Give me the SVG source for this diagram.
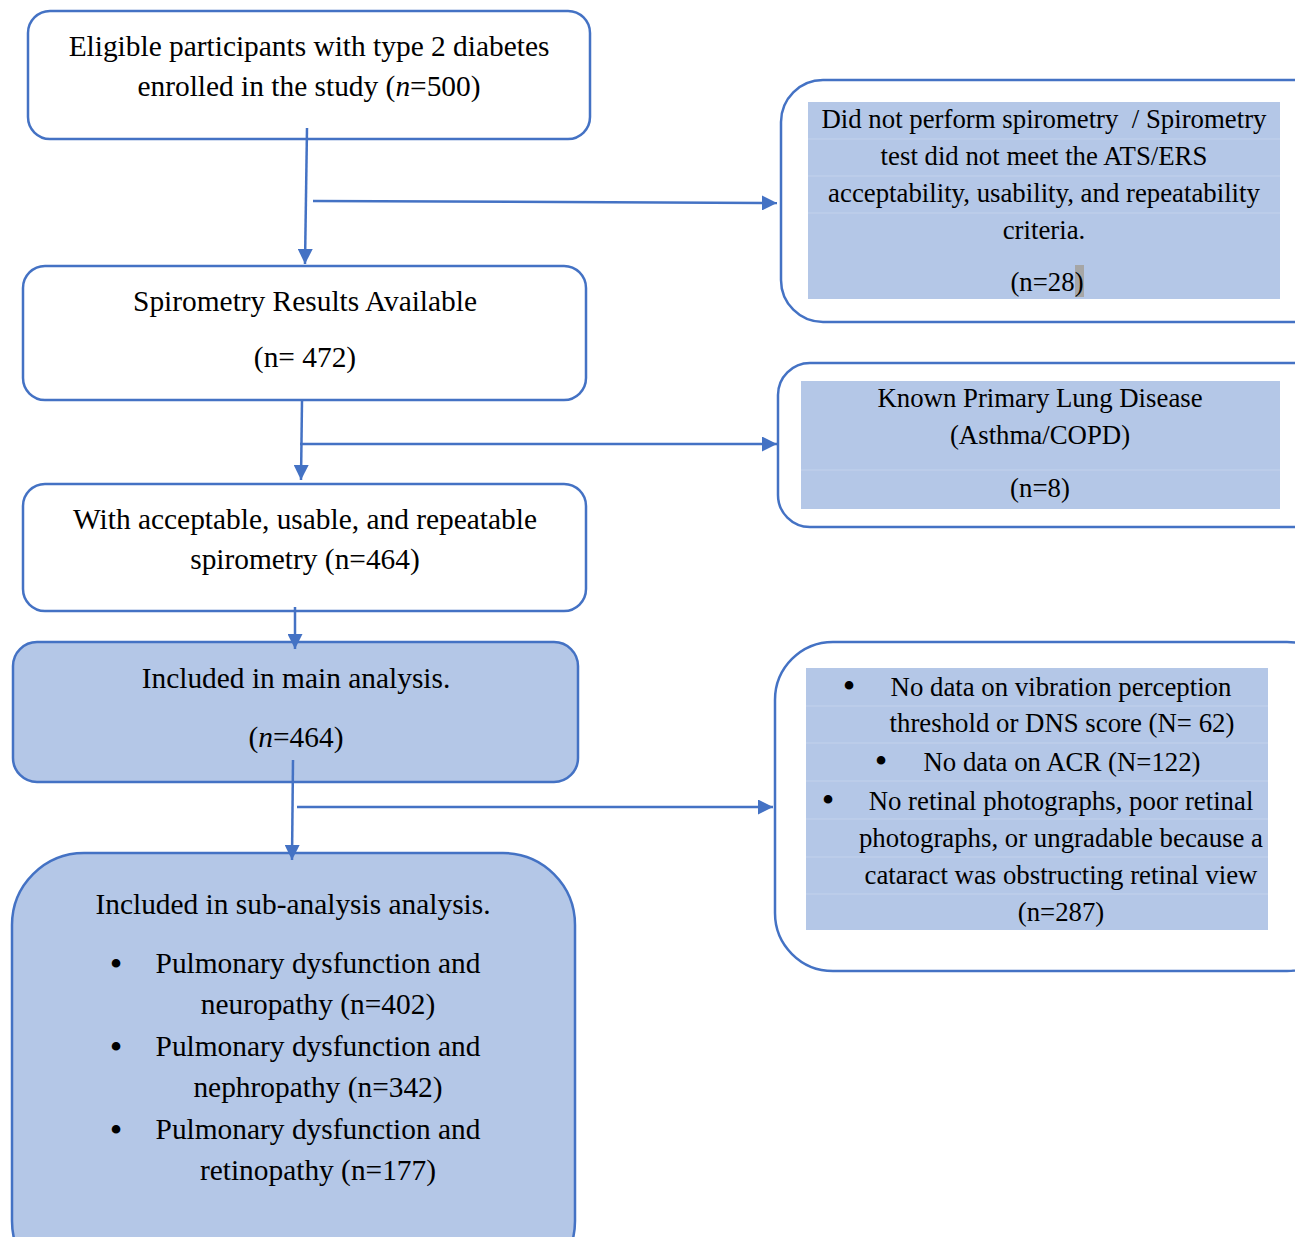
<svg xmlns="http://www.w3.org/2000/svg" width="1295" height="1237" viewBox="0 0 1295 1237">
<style>
.box{fill:#fff;stroke:#4472C4;stroke-width:2.5}
.fill{fill:#B4C7E7}
.shade{fill:#B4C7E7}
.row{stroke:#C3D2EC;stroke-width:1}
text{font-family:'Liberation Serif','Times New Roman','DejaVu Serif',serif;fill:#000;text-anchor:middle}
.t{font-size:29.4px}
.s{font-size:26.8px}
.b{font-size:36px}
.c{fill:none;stroke:#4472C4;stroke-width:2.5}
</style>
<defs>
<marker id="ah" viewBox="0 0 10 10" refX="10" refY="5" markerWidth="6" markerHeight="6" markerUnits="strokeWidth" orient="auto">
<path d="M0,0 L10,5 L0,10 z" fill="#4472C4"/>
</marker>
</defs>

<g id="n1">
<rect class="box" x="28" y="11" width="562" height="128" rx="22"/>
<text class="t" x="309" y="56">Eligible participants with type 2 diabetes</text>
<text class="t" x="309" y="96">enrolled in the study (<tspan font-style="italic">n</tspan>=500)</text>
</g>

<g id="n2">
<rect class="box" x="23" y="266" width="563" height="134" rx="22"/>
<text class="t" x="305" y="311">Spirometry Results Available</text>
<text class="t" x="305" y="367">(n= 472)</text>
</g>

<g id="n3">
<rect class="box" x="23" y="484" width="563" height="127" rx="22"/>
<text class="t" x="305" y="529">With acceptable, usable, and repeatable</text>
<text class="t" x="305" y="569">spirometry (n=464)</text>
</g>

<g id="n4">
<rect class="box fill" x="13" y="642" width="565" height="140" rx="24"/>
<text class="t" x="296" y="688">Included in main analysis.</text>
<text class="t" x="296" y="747">(<tspan font-style="italic">n</tspan>=464)</text>
</g>

<g id="n5">
<rect class="box fill" x="12" y="853" width="563" height="440" rx="72"/>
<text class="t" x="293" y="914">Included in sub-analysis analysis.</text>
<text class="b" x="116" y="976">•</text>
<text class="t" x="318" y="973">Pulmonary dysfunction and</text>
<text class="t" x="318" y="1014">neuropathy (n=402)</text>
<text class="b" x="116" y="1059">•</text>
<text class="t" x="318" y="1056">Pulmonary dysfunction and</text>
<text class="t" x="318" y="1097">nephropathy (n=342)</text>
<text class="b" x="116" y="1142">•</text>
<text class="t" x="318" y="1139">Pulmonary dysfunction and</text>
<text class="t" x="318" y="1180">retinopathy (n=177)</text>
</g>

<g id="r1">
<rect class="box" x="781" y="80" width="560" height="242" rx="42"/>
<rect class="shade" x="808" y="102" width="472" height="197"/>
<line class="row" x1="808" y1="139" x2="1280" y2="139"/>
<line class="row" x1="808" y1="176" x2="1280" y2="176"/>
<line class="row" x1="808" y1="213" x2="1280" y2="213"/>
<rect x="1075" y="265" width="9" height="32" fill="#A6A6A6"/>
<text class="s" x="1044" y="128" xml:space="preserve">Did not perform spirometry  / Spirometry</text>
<text class="s" x="1044" y="165">test did not meet the ATS/ERS</text>
<text class="s" x="1044" y="202">acceptability, usability, and repeatability</text>
<text class="s" x="1044" y="239">criteria.</text>
<text class="s" x="1047" y="291">(n=28)</text>
</g>

<g id="r2">
<rect class="box" x="778" y="363" width="560" height="164" rx="32"/>
<rect class="shade" x="801" y="381" width="479" height="128"/>
<line class="row" x1="801" y1="470" x2="1280" y2="470"/>
<text class="s" x="1040" y="407">Known Primary Lung Disease</text>
<text class="s" x="1040" y="444">(Asthma/COPD)</text>
<text class="s" x="1040" y="497">(n=8)</text>
</g>

<g id="r3">
<rect class="box" x="775" y="642" width="570" height="329" rx="58"/>
<rect class="shade" x="806" y="668" width="462" height="262"/>
<line class="row" x1="806" y1="706" x2="1268" y2="706"/>
<line class="row" x1="806" y1="743" x2="1268" y2="743"/>
<line class="row" x1="806" y1="781" x2="1268" y2="781"/>
<line class="row" x1="806" y1="819" x2="1268" y2="819"/>
<line class="row" x1="806" y1="857" x2="1268" y2="857"/>
<line class="row" x1="806" y1="894" x2="1268" y2="894"/>
<text class="b" x="849" y="698">•</text>
<text class="s" x="1061" y="696">No data on vibration perception</text>
<text class="s" x="1062" y="732">threshold or DNS score (N= 62)</text>
<text class="b" x="881" y="773">•</text>
<text class="s" x="1062" y="771">No data on ACR (N=122)</text>
<text class="b" x="828" y="812">•</text>
<text class="s" x="1061" y="810">No retinal photographs, poor retinal</text>
<text class="s" x="1061" y="847">photographs, or ungradable because a</text>
<text class="s" x="1061" y="884">cataract was obstructing retinal view</text>
<text class="s" x="1061" y="921">(n=287)</text>
</g>

<g id="connectors">
<line class="c" x1="307" y1="128" x2="305" y2="264" marker-end="url(#ah)"/>
<line class="c" x1="313" y1="201" x2="777" y2="203" marker-end="url(#ah)"/>
<line class="c" x1="302" y1="400" x2="301" y2="480" marker-end="url(#ah)"/>
<line class="c" x1="300" y1="444" x2="777" y2="444" marker-end="url(#ah)"/>
<line class="c" x1="295" y1="607" x2="295" y2="649" marker-end="url(#ah)"/>
<line class="c" x1="293" y1="760" x2="292" y2="860" marker-end="url(#ah)"/>
<line class="c" x1="297" y1="807" x2="773" y2="807" marker-end="url(#ah)"/>
</g>
</svg>
